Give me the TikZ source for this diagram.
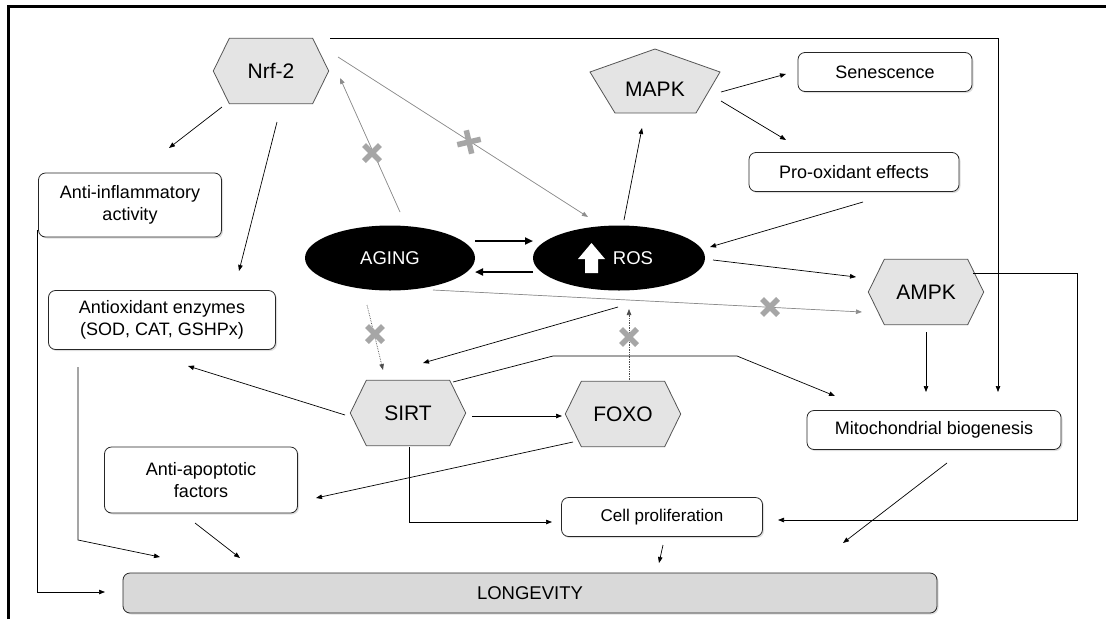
\documentclass[tikz,border=0pt]{standalone}
\usepackage{fontspec}
\setmainfont{Liberation Sans}
\usetikzlibrary{shapes.geometric,arrows.meta,calc,shadows}
\pgfdeclarelayer{bg}
\pgfsetlayers{bg,main}
\definecolor{hexfill}{HTML}{E4E4E4}
\definecolor{hexline}{HTML}{555555}
\definecolor{longfill}{HTML}{D9D9D9}
\definecolor{markgray}{HTML}{A6A6A6}
\definecolor{linegray}{HTML}{8C8C8C}
\newcommand\hexof[1]{\filldraw[hexdraw] (#1.west) -- ([xshift=16pt]#1.north west) -- ([xshift=-16pt]#1.north east) -- (#1.east) -- ([xshift=-16pt]#1.south east) -- ([xshift=16pt]#1.south west) -- cycle;}
\newcommand\xmk[1]{\draw[xmark] (#1) +(-8,-8) -- +(8,8) +(-8,8) -- +(8,-8);}
\begin{document}
\begin{tikzpicture}[x=1pt,y=-1pt,
 box/.style={draw=black!85, line width=0.8pt, rounded corners=7pt, fill=white, inner sep=0pt, align=center,
   font=\fontsize{18}{22}\selectfont, drop shadow={opacity=0.25, shadow xshift=1.5pt, shadow yshift=-1.5pt}},
 hexa/.style={minimum width=115pt, minimum height=65pt, inner sep=0pt, font=\fontsize{21}{24}\selectfont},
 hexdraw/.style={fill=hexfill, draw=hexline, line width=0.8pt},
 blackell/.style={ellipse, fill=black, text=white, inner sep=0pt, minimum height=65pt, font=\fontsize{18.5}{22}\selectfont},
 arr/.style={-{Triangle[length=6pt,width=4.5pt]}, line width=0.7pt},
 grayarr/.style={arr, draw=linegray, fill=linegray},
 dotarr/.style={arr, densely dotted, draw=black!70},
 thickarr/.style={-{Triangle[length=8pt,width=7pt]}, line width=2.2pt},
 xmark/.style={draw=markgray, line width=5.5pt},
]
\useasboundingbox (0,0) rectangle (1106,619);
% frame
\draw[line width=3pt] (8,619) -- (8,6) -- (1106,6);

% nodes
\node[hexa] (nrf) at (271,71) {Nrf-2};
\node[hexa] (ampk) at (926,292) {AMPK};
\node[hexa] (sirt) at (408,413) {SIRT};
\node[hexa] (foxo) at (623,414) {FOXO};
\node[inner sep=0pt, font=\fontsize{21}{24}\selectfont] (mapk) at (655,89) {MAPK};

\node[box, minimum width=174pt, minimum height=39pt] (sen) at (885,72) {Senescence};
\node[box, minimum width=210pt, minimum height=39pt] (pro) at (854,172) {Pro-oxidant effects};
\node[box, minimum width=183pt, minimum height=64pt] (antiinf) at (130,205) {Anti-inflammatory\\activity};
\node[box, minimum width=227pt, minimum height=59pt] (antiox) at (162,320) {Antioxidant enzymes\\(SOD, CAT, GSHPx)};
\node[box, minimum width=193pt, minimum height=66pt] (antiapo) at (201,480) {Anti-apoptotic\\factors};
\node[box, minimum width=201pt, minimum height=39pt, font=\fontsize{17}{20}\selectfont] (cellp) at (662,517) {Cell proliferation};
\node[box, minimum width=254pt, minimum height=39pt] (mito) at (934,430) {Mitochondrial biogenesis};
\node[box, fill=longfill, minimum width=814pt, minimum height=40pt, font=\fontsize{18.5}{22}\selectfont] (longev) at (530,593) {LONGEVITY};

\node[blackell, minimum width=170pt] (aging) at (390,258) {AGING};
\node[blackell, minimum width=172pt] (ros) at (619,258) {\hspace*{28pt}ROS};
\fill[white] ($(ros)+(-27.5,-15)$) -- ++(13.5,16) -- ++(-7,0) -- ++(0,14) -- ++(-13,0) -- ++(0,-14) -- ++(-7,0) -- cycle;

\begin{pgfonlayer}{bg}
\hexof{nrf}
\hexof{ampk}
\hexof{sirt}
\hexof{foxo}
\filldraw[hexdraw] ($(mapk)+(0,-40)$) -- ($(mapk)+(65,-17)$) -- ($(mapk)+(41,24)$) -- ($(mapk)+(-40,24)$) -- ($(mapk)+(-65,-17)$) -- cycle;
\end{pgfonlayer}

% connectors
\draw[arr] ($(nrf)+(59,-33)$) -| ($(mito)+(64,-38)$);
\draw[arr] ($(nrf)+(-49,36)$) -- ($(antiinf)+(39,-57)$);
\draw[arr] ($(nrf)+(6,51)$) -- ($(antiox)+(77,-49)$);
\draw[grayarr] ($(nrf)+(67,-14)$) -- ($(ros)+(-31,-41)$);
\draw[grayarr] ($(aging)+(10,-46)$) -- ($(nrf)+(69,7)$);
\draw[arr] ($(ros)+(5,-38)$) -- ($(mapk)+(-13,39)$);
\draw[arr] ($(mapk)+(66,3)$) -- ($(sen)+(-99,2)$);
\draw[arr] ($(mapk)+(66,12)$) -- ($(pro)+(-68,-32)$);
\draw[arr] ($(pro)+(9,30)$) -- ($(ros)+(91,-11)$);
\draw[arr] ($(ros)+(94,2)$) -- ($(ampk)+(-70,-15)$);
\draw[arr] ($(ampk)+(47,-19)$) -- ++(104,0) |- ($(cellp)+(116,3)$);
\draw[arr] ($(ampk)+(0,40)$) -- ($(mito)+(-8,-38)$);
\draw[grayarr] ($(aging)+(43,32)$) -- ($(ampk)+(-64,20)$);
\draw[arr] ($(ros)+(-1,49)$) -- ($(sirt)+(15,-50)$);
\draw[dotarr] ($(foxo)+(6,-34)$) -- ($(ros)+(10,51)$);
\draw[dotarr] ($(aging)+(-23,47)$) -- ($(sirt)+(-25,-43)$);
\draw[arr] ($(sirt)+(45,-31)$) -- ++(100,-26) -- ++(184,0) -- ($(mito)+(-99,-34)$);
\draw[arr] ($(sirt)+(-63,2)$) -- ($(antiox)+(26,46)$);
\draw[arr] ($(sirt)+(64,3)$) -- ($(foxo)+(-61,2)$);
\draw[arr] ($(sirt)+(1,34)$) |- ($(cellp)+(-110,5)$);
\draw[arr] ($(foxo)+(-50,28)$) -- ($(antiapo)+(115,18)$);
\draw[arr] ($(antiapo)+(-6,43)$) -- ($(longev)+(-290,-35)$);
\draw[arr] ($(antiox)+(-84,47)$) -- ++(0,173) -- ($(longev)+(-370,-36)$);
\draw[arr] ($(antiinf)+(-93,25)$) |- ($(longev)+(-425,-1)$);
\draw[arr] ($(cellp)+(1,28)$) -- ($(longev)+(129,-30)$);
\draw[arr] ($(mito)+(13,33)$) -- ($(longev)+(313,-50)$);
\draw[thickarr] ($(aging)+(85,-17)$) -- ($(ros)+(-86,-17)$);
\draw[thickarr] ($(ros)+(-86,14)$) -- ($(aging)+(85,14)$);

% inhibition marks
\xmk{372,153}
\xmk{770,307}
\xmk{629,337}
\xmk{375,334}
\begin{scope}[shift={(469,142)}, rotate=13]
\draw[xmark] (-12,0) -- (12,0) (0,-12) -- (0,12);
\end{scope}
\end{tikzpicture}
\end{document}
